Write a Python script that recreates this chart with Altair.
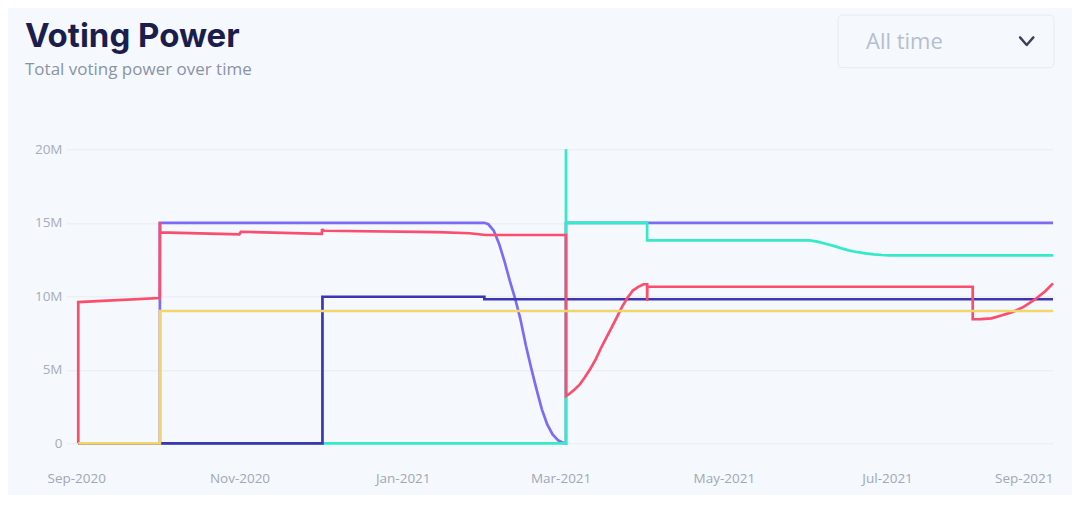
import altair as alt
import pandas as pd

# ---------------- data (values in millions) ----------------
SERIES = ["Delegate A", "Delegate B", "Delegate C", "Delegate D", "Delegate E"]
COLORS = ["#7a6cf7", "#36eac9", "#3c36b2", "#f94e6d", "#f2d56c"]

purple_dates = [
    "2020-09-01T18:00", "2020-10-02T06:00", "2020-10-02T06:00", "2021-01-31T12:00",
    "2021-02-02T00:00", "2021-02-04T00:00", "2021-02-06T00:00", "2021-02-08T00:00",
    "2021-02-10T00:00", "2021-02-12T00:00", "2021-02-14T00:00", "2021-02-16T00:00",
    "2021-02-18T00:00", "2021-02-20T00:00", "2021-02-22T00:00", "2021-02-24T00:00",
    "2021-02-26T00:00", "2021-02-28T00:00", "2021-03-02T00:00", "2021-03-03T00:00",
    "2021-03-03T00:00", "2021-09-01T00:00",
]
purple_values = [
    0, 0, 15.0, 15.0,
    14.9, 14.47, 13.58, 12.40,
    11.06, 9.85, 8.42, 6.67,
    5.12, 3.67, 2.31, 1.29,
    0.60, 0.21, 0.03, 0,
    15.0, 15.0,
]

cyan_dates = [
    "2020-09-01T18:00", "2021-03-03T00:00", "2021-03-03T00:00", "2021-03-03T01:00",
    "2021-04-02T08:00", "2021-04-02T08:00", "2021-06-02T00:00", "2021-06-05T00:00",
    "2021-06-08T00:00", "2021-06-11T00:00", "2021-06-14T00:00", "2021-06-17T00:00",
    "2021-06-20T00:00", "2021-06-23T00:00", "2021-06-26T00:00", "2021-06-29T00:00",
    "2021-07-02T00:00", "2021-09-01T00:00",
]
cyan_values = [
    0, 0, 20.0, 15.0,
    15.0, 13.8, 13.8, 13.72,
    13.57, 13.43, 13.26, 13.11,
    13.00, 12.92, 12.85, 12.81,
    12.79, 12.79,
]

indigo_dates = [
    "2020-09-01T18:00", "2020-12-02T00:00", "2020-12-02T00:00",
    "2021-01-31T12:00", "2021-01-31T12:00", "2021-09-01T00:00",
]
indigo_values = [0, 0, 9.97, 9.97, 9.80, 9.80]

red_dates = [
    "2020-09-01T18:00", "2020-09-01T18:00", "2020-10-02T04:00", "2020-10-02T06:00",
    "2020-10-02T08:00", "2020-10-31T23:00", "2020-11-01T12:00", "2020-12-01T18:00",
    "2020-12-01T20:00", "2020-12-02T12:00", "2021-01-14T00:00", "2021-01-26T00:00",
    "2021-02-01T00:00", "2021-03-03T00:00", "2021-03-03T00:00", "2021-03-04T00:00",
    "2021-03-06T00:00", "2021-03-08T00:00", "2021-03-10T00:00", "2021-03-12T00:00",
    "2021-03-14T00:00", "2021-03-16T00:00", "2021-03-18T00:00", "2021-03-20T00:00",
    "2021-03-22T00:00", "2021-03-24T00:00", "2021-03-26T00:00", "2021-03-28T00:00",
    "2021-03-30T00:00", "2021-04-01T00:00", "2021-04-02T08:00", "2021-04-02T08:00",
    "2021-04-02T10:00", "2021-08-02T00:00", "2021-08-02T00:00", "2021-08-05T00:00",
    "2021-08-09T00:00", "2021-08-13T00:00", "2021-08-17T00:00", "2021-08-21T00:00",
    "2021-08-25T00:00", "2021-08-29T00:00", "2021-09-01T00:00",
]
red_values = [
    0, 9.61, 9.88, 15.05,
    14.35, 14.22, 14.39, 14.24,
    14.56, 14.46, 14.36, 14.29,
    14.17, 14.17, 3.22, 3.32,
    3.63, 3.97, 4.48, 5.03,
    5.67, 6.45, 7.16, 7.85,
    8.57, 9.30, 9.90, 10.39,
    10.64, 10.82, 10.82, 9.68,
    10.65, 10.65, 8.44, 8.45,
    8.50, 8.71, 8.94, 9.28,
    9.75, 10.33, 10.88,
]

yellow_dates = ["2020-09-01T18:00", "2020-10-02T06:00", "2020-10-02T06:00", "2021-09-01T00:00"]
yellow_values = [0, 0, 9.0, 9.0]

TICK_VALUES = [5e6 * k for k in range(5)]

# ---------------- build table ----------------
all_dates = [purple_dates, cyan_dates, indigo_dates, red_dates, yellow_dates]
all_values = [purple_values, cyan_values, indigo_values, red_values, yellow_values]
rows = []
for name, ds, vs in zip(SERIES, all_dates, all_values):
    for i, (d, v) in enumerate(zip(ds, vs)):
        rows.append({"series": name, "date": d, "power": v * 1e6, "i": i})
df = pd.DataFrame(rows)

BG = "#f5f8fc"
W, H = 987, 294
OX, OY = 66, 149.3  # page position of plot origin

x_ticks = [
    alt.DateTime(year=2020, month=9, date=1), alt.DateTime(year=2020, month=11, date=1),
    alt.DateTime(year=2021, month=1, date=1), alt.DateTime(year=2021, month=3, date=1),
    alt.DateTime(year=2021, month=5, date=1), alt.DateTime(year=2021, month=7, date=1),
    alt.DateTime(year=2021, month=9, date=1),
]

lines = alt.Chart(df).mark_line(strokeWidth=2.7, strokeMiterLimit=2).encode(
    x=alt.X(
        "date:T",
        scale=alt.Scale(domain=[alt.DateTime(year=2020, month=8, date=28, hours=4),
                                alt.DateTime(year=2021, month=9, date=1)]),
        axis=alt.Axis(
            values=x_ticks, format="%b-%Y", formatType="time", title=None,
            grid=False, ticks=False, tickSize=0, domain=False, labelPadding=28,
            labelFont="Open Sans", labelFontSize=13.5, labelColor="#a0a8b7",
            labelOverlap=False,
            labelAlign={"condition": {"test": "datum.value >= datetime(2021, 7, 15)", "value": "right"},
                        "value": "center"},
        ),
    ),
    y=alt.Y(
        "power:Q",
        scale=alt.Scale(domain=[0, 20e6], nice=False),
        axis=alt.Axis(
            values=TICK_VALUES, title=None, ticks=False, tickSize=0, domain=False,
            grid=True, gridColor="#e8ecf1", gridWidth=1, labelPadding=4,
            labelExpr="datum.value == 0 ? '0' : format(datum.value / 1e6, 'd') + 'M'",
            labelFont="Open Sans", labelFontSize=13.5, labelColor="#a6adba",
        ),
    ),
    color=alt.Color("series:N", scale=alt.Scale(domain=SERIES, range=COLORS), legend=None),
    order=alt.Order("i:Q"),
)

one = pd.DataFrame({"k": [0]})

title = alt.Chart(one).mark_text(
    text="Voting Power", font="Inter", fontWeight=700, fontSize=33, color="#1b1e4c",
    align="left", baseline="alphabetic",
).encode(x=alt.value(25 - OX), y=alt.value(46.7 - OY))

subtitle = alt.Chart(one).mark_text(
    text="Total voting power over time", font="Open Sans", fontSize=17, color="#8a93a6",
    align="left", baseline="alphabetic",
).encode(x=alt.value(25 - OX), y=alt.value(75 - OY))

box = alt.Chart(one).mark_rect(
    fill=BG, stroke="#e6eaf0", strokeWidth=1, cornerRadius=4,
).encode(x=alt.value(838 - OX), x2=alt.value(1054 - OX), y=alt.value(15 - OY), y2=alt.value(67.7 - OY))

box_text = alt.Chart(one).mark_text(
    text="All time", font="Open Sans", fontSize=22, color="#b5becd",
    align="left", baseline="alphabetic",
).encode(x=alt.value(866 - OX), y=alt.value(49.3 - OY))

chevron = alt.Chart(one).mark_point(
    shape="M-1,-0.58L0,0.58L1,-0.58", size=177, filled=False, stroke="#3b4056",
    strokeWidth=2.4, strokeCap="round", strokeJoin="round", opacity=1,
).encode(x=alt.value(1026.7 - OX), y=alt.value(41.2 - OY))

chart = alt.layer(lines, box, box_text, chevron, title, subtitle).properties(
    width=W, height=H,
    autosize=alt.AutoSizeParams(type="none"),
    padding={"left": OX - 8, "top": OY - 8, "right": 19, "bottom": 52},
    background=BG,
).configure_view(stroke=None)

chart.save("out.html", embed_options={"renderer": "svg", "actions": False})
